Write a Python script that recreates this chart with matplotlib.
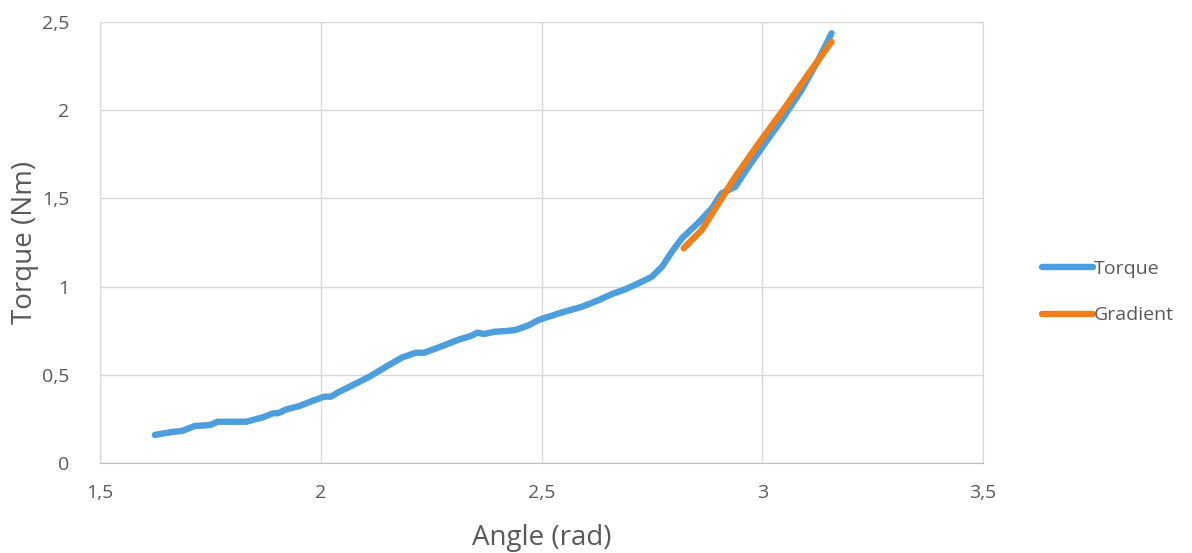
import matplotlib
matplotlib.use("Agg")
import matplotlib.pyplot as plt
from matplotlib.ticker import FuncFormatter

# values
torque_angle = [1.624, 1.666, 1.685, 1.715, 1.749, 1.767, 1.831, 1.869, 1.892, 1.903,
                1.922, 1.952, 1.982, 2.008, 2.023, 2.042, 2.073, 2.110, 2.148, 2.185,
                2.215, 2.234, 2.268, 2.314, 2.340, 2.355, 2.370, 2.393, 2.419, 2.441,
                2.470, 2.494, 2.540, 2.592, 2.630, 2.660, 2.690, 2.720, 2.750, 2.773,
                2.788, 2.796, 2.818, 2.854, 2.886, 2.908, 2.939, 2.969, 3.006, 3.044,
                3.089, 3.127, 3.157]
torque_value = [0.159, 0.177, 0.181, 0.210, 0.215, 0.234, 0.234, 0.259, 0.282, 0.282,
                0.304, 0.323, 0.353, 0.376, 0.376, 0.404, 0.442, 0.489, 0.546, 0.599,
                0.625, 0.625, 0.656, 0.701, 0.720, 0.739, 0.731, 0.744, 0.748, 0.754,
                0.780, 0.811, 0.849, 0.886, 0.924, 0.958, 0.985, 1.019, 1.056, 1.113,
                1.170, 1.200, 1.274, 1.359, 1.444, 1.529, 1.566, 1.680, 1.812, 1.944,
                2.114, 2.285, 2.436]

grad_angle = [2.822, 2.863, 2.901, 2.939, 2.992, 3.050, 3.100, 3.157]
grad_value = [1.217, 1.321, 1.472, 1.623, 1.812, 2.010, 2.190, 2.388]

txt = "#595959"
plt.rcParams['font.family'] = ['Open Sans', 'DejaVu Sans']

fig = plt.figure(figsize=(11.92, 5.53), dpi=100)
ax = fig.add_axes([100 / 1192, 90 / 553, 883 / 1192, 441 / 553])

ax.plot(torque_angle, torque_value, color="#4C9FDC", lw=4.6,
        solid_capstyle="round", solid_joinstyle="round", label="Torque")
ax.plot(grad_angle, grad_value, color="#EE7F1A", lw=4.6,
        solid_capstyle="round", solid_joinstyle="round", label="Gradient")

ax.set_xlim(1.5, 3.5)
ax.set_ylim(0, 2.5)
ax.set_xticks([1.5, 2, 2.5, 3, 3.5])
ax.set_yticks([0, 0.5, 1, 1.5, 2, 2.5])
fmt = FuncFormatter(lambda v, p: ("%g" % v).replace(".", ","))
ax.xaxis.set_major_formatter(fmt)
ax.yaxis.set_major_formatter(fmt)
ax.tick_params(length=0, labelsize=14, colors=txt)
ax.tick_params(axis="x", pad=15)
ax.tick_params(axis="y", pad=22)

ax.grid(True, color="#d9d9d9", lw=1)
ax.set_axisbelow(True)
for s in ax.spines.values():
  s.set_color("#d9d9d9")
ax.spines["bottom"].set_color("#bfbfbf")

ax.set_xlabel("Angle (rad)", fontsize=20, color=txt, labelpad=16)
ax.set_ylabel("Torque (Nm)", fontsize=20, color=txt, labelpad=2)

leg = ax.legend(loc="center left", bbox_to_anchor=(1.047, 0.387), frameon=False,
                fontsize=14, labelcolor=txt, handlelength=2.6, handletextpad=0.05,
                labelspacing=1.45)

fig.savefig("out.png", dpi=100)
